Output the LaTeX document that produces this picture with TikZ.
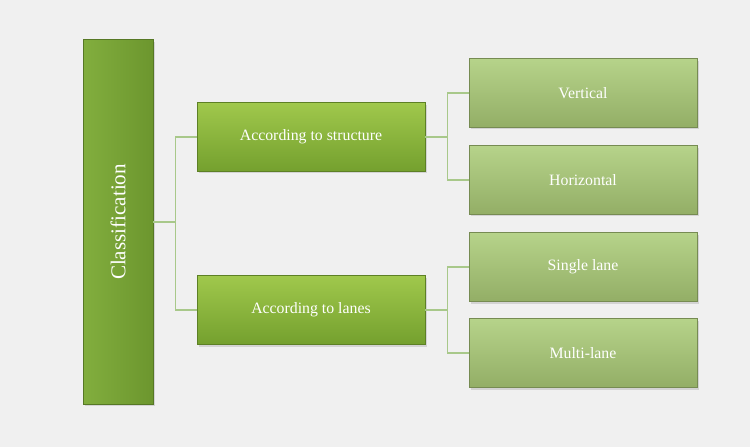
\documentclass[tikz,border=0pt]{standalone}
\usepackage{fontspec}
\setmainfont{Liberation Serif}
\usetikzlibrary{shadows}
\definecolor{bgray}{HTML}{F0F0F0}
\definecolor{midtop}{HTML}{A0C84C}
\definecolor{midbot}{HTML}{74A02E}
\definecolor{lefttop}{HTML}{82AE3E}
\definecolor{leftbot}{HTML}{6C962E}
\definecolor{rtop}{HTML}{B6D38A}
\definecolor{rbot}{HTML}{93AE66}
\definecolor{link}{HTML}{A8C88A}
\begin{document}
\begin{tikzpicture}[
    x=0.02cm, y=-0.02cm,
    root/.style={rectangle, left color=lefttop, right color=leftbot, draw=leftbot!80!black, very thin,
        minimum width=7.3cm, minimum height=1.4cm, text=white, font=\large, rotate=90,
        drop shadow={opacity=0.25, shadow xshift=0.04cm, shadow yshift=-0.04cm}},
    group/.style={rectangle, top color=midtop, bottom color=midbot, draw=midbot!80!black, very thin,
        minimum width=4.56cm, minimum height=1.38cm, text=white, font=\small,
        drop shadow={opacity=0.25, shadow xshift=0.04cm, shadow yshift=-0.04cm}},
    leaf/.style={rectangle, top color=rtop, bottom color=rbot, draw=rbot!80!black, very thin,
        minimum width=4.56cm, minimum height=1.38cm, text=white, font=\small,
        drop shadow={opacity=0.25, shadow xshift=0.04cm, shadow yshift=-0.04cm}},
    conn/.style={draw=link, line width=0.6pt}
]
    \fill[bgray] (0,0) rectangle (750,447);
    \useasboundingbox (0,0) rectangle (750,447);

    % Boxes
    \node[root] (cls) at (118,222) {Classification};
    \node[group] (struct) at (311,137) {According to structure};
    \node[group] (lanes) at (311,310) {According to lanes};
    \node[leaf] (vert) at (583,93) {Vertical};
    \node[leaf] (horiz) at (583,180) {Horizontal};
    \node[leaf] (single) at (583,267) {Single lane};
    \node[leaf] (multi) at (583,353) {Multi-lane};

    % Connectors
    \draw[conn] (cls.south) -- ++(22,0) |- (struct.west);
    \draw[conn] (cls.south) -- ++(22,0) |- (lanes.west);
    \draw[conn] (struct.east) -- ++(22,0) |- (vert.west);
    \draw[conn] (struct.east) -- ++(22,0) |- (horiz.west);
    \draw[conn] (lanes.east) -- ++(22,0) |- (single.west);
    \draw[conn] (lanes.east) -- ++(22,0) |- (multi.west);
\end{tikzpicture}
\end{document}
